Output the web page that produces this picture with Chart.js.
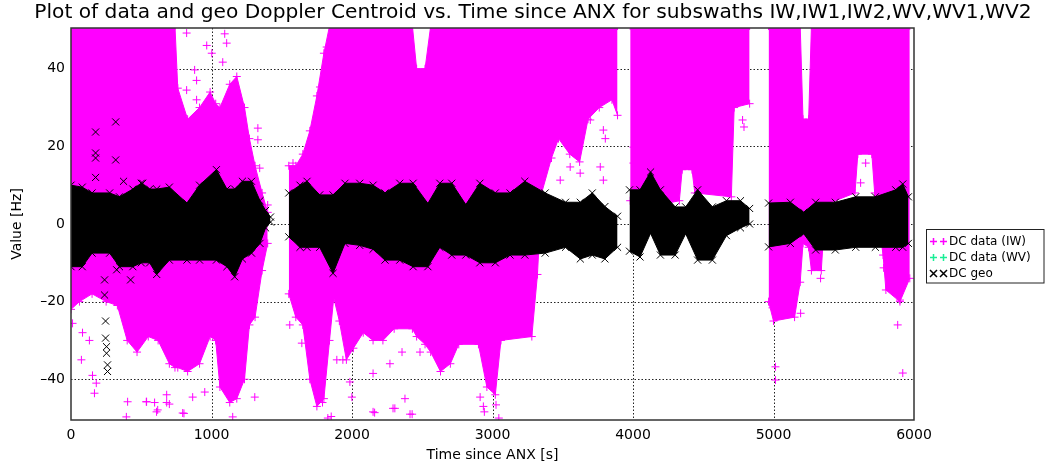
<!DOCTYPE html>
<html>
<head>
<meta charset="utf-8">
<title>Doppler Centroid vs. Time since ANX</title>
<script src="https://cdn.jsdelivr.net/npm/chart.js@4.4.1/dist/chart.umd.min.js"></script>
<style>
  html, body { margin: 0; padding: 0; background: #fff; }
  #plot { display: block; }
</style>
</head>
<body>
<canvas id="plot" width="1046" height="467"></canvas>
<script>
const titulo = 'Plot of data and geo Doppler Centroid vs. Time since ANX for subswaths IW,IW1,IW2,WV,WV1,WV2';

const xTicks = [0, 1000, 2000, 3000, 4000, 5000, 6000];
const yTicks = [-40, -20, 0, 20, 40];

// DC data (IW): upper / lower edge of the cloud, null = no data
const iwTime = [0, 60, 150, 250, 330, 400, 470, 550, 620, 700, 740, 760, 830, 915, 990, 1030, 1060, 1130, 1180, 1235, 1270, 1310, 1360, 1400, 1460,
  1550, 1600, 1650, 1700, 1750, 1800, 1840, 1870, 1910, 1960, 2010, 2080, 2150, 2220, 2300, 2430, 2460, 2520, 2560, 2630, 2700, 2760, 2900, 2960, 3020, 3060, 3280, 3320, 3350, 3420, 3470, 3550, 3620, 3680, 3760, 3850, 3890, 3930,
  3980, 4050, 4200, 4330, 4350, 4420, 4440, 4700, 4720, 4830, 4890,
  4965, 5000, 5150, 5190, 5210, 5250, 5270, 5340, 5370, 5580, 5600, 5700, 5720, 5780, 5800, 5900, 5970];
const iwHigh = [51, 51, 51, 51, 51, 51, 51, 51, 51, 51, 51, 35, 27, 30, 34, 31, 30, 36, 38, 30, 22, 15, 8, 3, null,
  15, 15, 18, 24, 33, 44, 51, 51, 51, 51, 51, 51, 51, 51, 51, 51, 40, 40, 51, 51, 51, 51, 51, 51, 51, 51, 51, 51, 51, 51, 51, 51, 51, 51, 51, 51, 51, null,
  51, 51, 51, 51, 51, 51, 51, 51, 51, 51, null,
  51, 51, 51, 51, 27, 27, 51, 51, 51, 51, 51, 51, 51, 51, 51, 51, 51];
const iwLow = [-22, -20, -18, -20, -21, -30, -33, -29, -30, -36, -37, -37, -38, -36, -29, -30, -42, -46, -45, -40, -26, -24, -12, -5, null,
  -18, -24, -26, -40, -47, -45, -30, -19, -25, -35, -32, -28, -30, -30, -27, -27, -29, -31, -33, -38, -36, -31, -31, -42, -44, -30, -29, -13, 8, 17, 22, 18, 16, 27, 30, 32, 28, null,
  6, 5, 5, 6, 14, 14, 8, 7, 30, 31, null,
  -20, -25, -24, -15, -5, -6, -12, -12, 5, 8, 18, 18, 8, -8, -17, -20, -14];

// DC data (IW): isolated points
const iwOutTime = [823, 966, 1002, 1080, 1094, 1108, 880, 894, 823, 894, 1330, 1330, 1343, 1400, 1772, 1820, 1820, 1580, 1630,
  3460, 3482, 3553, 3624, 3696, 3767, 3789, 3789, 3803, 4003, 4003, 4780, 4790, 4660, 4660, 5656, 5620, 5264,
  74, 153, 180, 131, 82, 11, 167, 403, 394, 538, 595, 609, 681, 681, 795, 866, 952, 1151, 1308, 1557, 1643, 1750, 1828,
  1892, 1935, 1999, 1985, 536, 617, 700, 804, 1790, 1852, 2161, 2305, 2428, 2942, 3025, 3045, 2150, 2292, 2377, 2413,
  2935, 2484, 2356, 2270, 2150, 2912, 5014, 5014, 5920, 5884, 5900, 5335, 5193, 4993, 5784];
const iwOutValue = [49.2, 46, 44, 41.7, 49, 46.6, 39.7, 37, 34.5, 32, 24.7, 21.7, 14.4, 4.9, 35.3, 32, 45.6, 15.7, 14.7,
  22.4, 11.3, 14.7, 13.1, 26.8, 14.7, 24.2, 11.3, 22, 19.8, 15.7, 26.8, 25, 19.8, 12.6, 15.7, 10.6, 6.2,
  -35, -39, -41, -30, -28, -25.6, -43.6, -45.8, -49.7, -45.8, -46, -48.4, -44, -46, -48.7, -44.6, -43.3, -49.7, -44.6, -26, -30.7, -33.3, -50,
  -35, -35, -44.6, -40.7, -45.8, -47.9, -46.4, -48.8, -46, -49.6, -48.6, -47.5, -49, -48.4, -46.6, -50, -48.4, -47.5, -45, -49,
  -47, -33, -33, -36, -38.5, -44.6, -36.8, -40.2, -38.4, -26, -19.6, -14, -23, -21.6, -11.3];

// DC data (WV): no samples in this pass
const wvTime = [];
const wvValue = [];

// DC geo: upper / lower edge of the band
const geoTime = [0, 80, 150, 275, 345, 440, 500, 560, 610, 700, 825, 915, 1035, 1110, 1165, 1220, 1285, 1345, 1385, 1420, 1480,
  1550, 1630, 1680, 1770, 1865, 1950, 2055, 2150, 2235, 2340, 2435, 2540, 2625, 2710, 2810, 2910, 3020, 3125, 3230, 3375, 3520, 3625, 3710, 3800, 3890, 3940,
  3975, 4050, 4125, 4195, 4300, 4375, 4460, 4565, 4665, 4765, 4830, 4900,
  4965, 5120, 5215, 5300, 5440, 5585, 5725, 5870, 5920, 5960];
const geoHigh = [10, 9.5, 8, 8, 7, 9, 10.5, 9, 9, 9.5, 5.4, 10, 14, 9, 9, 11, 11, 6, 3.5, 1.8, null,
  8, 10, 11, 7.5, 7.5, 10.5, 10.5, 10, 8, 10.5, 10.5, 5.3, 10.5, 10.5, 5, 10.5, 8, 8, 11, 8, 5.6, 5.6, 8, 4.5, 2, null,
  8.8, 8.8, 13.4, 8.8, 4.4, 4.4, 8.8, 4.4, 6, 6, 4, null,
  5.4, 5.6, 3, 5.6, 5.6, 7, 7, 8.8, 10.3, 7];
const geoLow = [-11, -11, -7.5, -7.5, -11, -11, -10, -10, -13, -9.3, -9.3, -9.3, -9.3, -11, -13.6, -9, -7.5, -5, -1, 0.5, null,
  -3.3, -6, -6, -6, -12.7, -5, -5.5, -6.5, -9.3, -9.3, -11, -11, -6, -8, -8, -10, -10, -8, -8, -7.5, -6, -9, -8, -9, -6, null,
  -7, -8.5, -2.4, -8, -8, -2.5, -9.3, -9.3, -3, -1, 0, null,
  -5.9, -5, -2.5, -6.7, -6.7, -6, -6, -6, -6, -5];

// DC geo: isolated points
const geoOutTime = [175, 318, 175, 175, 318, 175, 374, 510, 239, 239, 246, 246, 253, 253, 260, 260, 424, 325];
const geoOutValue = [23.7, 26.3, 18.3, 17, 16.5, 12, 11, 10.5, -14.4, -18.3, -25, -29.4, -31.6, -33.3, -36.3, -38, -14.4, -11.8];

const MAGENTA = '#ff00ff';
const GREEN = '#1aee96';
const BLACK = '#000000';

function puntos(xs, ys) {
  return xs.map((x, i) => ({ x: x, y: ys[i] }));
}

// legend symbols: '+' or 'x', 7 px across
function marca(ctx, style, cx, cy, color) {
  ctx.strokeStyle = color;
  ctx.lineWidth = 1.5;
  ctx.beginPath();
  if (style === 'cross') {
    ctx.moveTo(cx - 3.5, cy); ctx.lineTo(cx + 3.5, cy);
    ctx.moveTo(cx, cy - 3.5); ctx.lineTo(cx, cy + 3.5);
  } else {
    ctx.moveTo(cx - 3.5, cy - 3.5); ctx.lineTo(cx + 3.5, cy + 3.5);
    ctx.moveTo(cx - 3.5, cy + 3.5); ctx.lineTo(cx + 3.5, cy - 3.5);
  }
  ctx.stroke();
}

// gridlines under the data, frame / title / legend on top
const decoracion = {
  id: 'decoracion',
  beforeDatasetsDraw(chart) {
    const { ctx, chartArea: a, scales } = chart;
    ctx.save();
    ctx.strokeStyle = '#222';
    ctx.lineWidth = 1;
    ctx.setLineDash([1.5, 2]);
    ctx.beginPath();
    xTicks.forEach(v => {
      if (v <= scales.x.min || v >= scales.x.max) return;
      const px = Math.round(scales.x.getPixelForValue(v)) + 0.5;
      ctx.moveTo(px, a.top);
      ctx.lineTo(px, a.bottom);
    });
    yTicks.forEach(v => {
      const py = Math.round(scales.y.getPixelForValue(v)) + 0.5;
      ctx.moveTo(a.left, py);
      ctx.lineTo(a.right, py);
    });
    ctx.stroke();
    ctx.restore();
  },
  afterDraw(chart) {
    const { ctx, chartArea: a } = chart;
    ctx.save();
    // frame
    ctx.strokeStyle = '#333';
    ctx.lineWidth = 1.5;
    ctx.strokeRect(a.left, a.top, a.right - a.left, a.bottom - a.top);

    // title, stretched to the same width as the reference
    ctx.fillStyle = '#000';
    ctx.textBaseline = 'middle';
    ctx.textAlign = 'center';
    ctx.font = '16px "DejaVu Sans"';
    const w = ctx.measureText(titulo).width;
    const size = 16 * 998 / w;
    ctx.font = size.toFixed(2) + 'px "DejaVu Sans"';
    ctx.fillText(titulo, 533, 13);

    // legend box
    const bx = 926.5, by = 229.5, bw = 117.5, bh = 53.5;
    ctx.fillStyle = '#fff';
    ctx.fillRect(bx, by, bw, bh);
    ctx.strokeStyle = '#222';
    ctx.lineWidth = 1;
    ctx.strokeRect(bx, by, bw, bh);
    const items = [
      { text: 'DC data (IW)', color: MAGENTA, style: 'cross', y: 241.5 },
      { text: 'DC data (WV)', color: GREEN, style: 'cross', y: 257.5 },
      { text: 'DC geo', color: BLACK, style: 'crossRot', y: 273.5 }
    ];
    items.forEach(it => {
      marca(ctx, it.style, 933.5, it.y, it.color);
      marca(ctx, it.style, 943.5, it.y, it.color);
      ctx.fillStyle = '#000';
      ctx.textAlign = 'left';
      ctx.font = '12px "DejaVu Sans"';
      ctx.fillText(it.text, 949, it.y + 0.5);
    });
    ctx.restore();
  }
};

const comun = { showLine: true, spanGaps: false, clip: 0, borderWidth: 1, pointBorderWidth: 1 };

const chart = new Chart(document.getElementById('plot').getContext('2d'), {
  type: 'line',
  data: {
    datasets: [
      Object.assign({}, comun, {
        label: 'DC data (IW) low',
        data: puntos(iwTime, iwLow),
        borderColor: MAGENTA,
        backgroundColor: MAGENTA,
        pointStyle: 'cross', pointRadius: 4, pointBorderColor: MAGENTA,
        fill: false,
        order: 6
      }),
      Object.assign({}, comun, {
        label: 'DC data (IW)',
        data: puntos(iwTime, iwHigh),
        borderColor: MAGENTA,
        backgroundColor: MAGENTA,
        pointStyle: 'cross', pointRadius: 4, pointBorderColor: MAGENTA,
        fill: '-1',
        order: 5
      }),
      Object.assign({}, comun, {
        label: 'DC data (IW) points',
        data: puntos(iwOutTime, iwOutValue),
        showLine: false,
        borderColor: MAGENTA,
        pointStyle: 'cross', pointRadius: 4, pointBorderColor: MAGENTA,
        fill: false,
        order: 4
      }),
      Object.assign({}, comun, {
        label: 'DC data (WV)',
        data: puntos(wvTime, wvValue),
        showLine: false,
        borderColor: GREEN,
        pointStyle: 'cross', pointRadius: 4, pointBorderColor: GREEN,
        fill: false,
        order: 3
      }),
      Object.assign({}, comun, {
        label: 'DC geo low',
        data: puntos(geoTime, geoLow),
        borderColor: BLACK,
        backgroundColor: BLACK,
        pointStyle: 'crossRot', pointRadius: 5, pointBorderColor: BLACK,
        fill: false,
        order: 2
      }),
      Object.assign({}, comun, {
        label: 'DC geo',
        data: puntos(geoTime, geoHigh),
        borderColor: BLACK,
        backgroundColor: BLACK,
        pointStyle: 'crossRot', pointRadius: 5, pointBorderColor: BLACK,
        fill: '-1',
        order: 1
      }),
      Object.assign({}, comun, {
        label: 'DC geo points',
        data: puntos(geoOutTime, geoOutValue),
        showLine: false,
        borderColor: BLACK,
        pointStyle: 'crossRot', pointRadius: 5, pointBorderColor: BLACK,
        fill: false,
        order: 0
      })
    ]
  },
  options: {
    responsive: false,
    animation: false,
    devicePixelRatio: 1,
    layout: { padding: { top: 28, right: 132, left: 0, bottom: 0 } },
    plugins: {
      legend: { display: false },
      title: { display: false },
      tooltip: { enabled: false }
    },
    scales: {
      x: {
        type: 'linear',
        min: 0,
        max: 6000,
        afterBuildTicks: s => { s.ticks = xTicks.map(v => ({ value: v })); },
        afterFit: s => { s.height = 47; },
        grid: { display: false, drawTicks: false },
        border: { display: false },
        ticks: {
          padding: 7,
          color: '#000',
          maxRotation: 0,
          font: { family: 'DejaVu Sans', size: 14 },
          callback: v => String(v)
        },
        title: {
          display: true,
          text: 'Time since ANX [s]',
          color: '#000',
          font: { family: 'DejaVu Sans', size: 14 },
          padding: { top: 0, bottom: 3 }
        }
      },
      y: {
        type: 'linear',
        min: -50.5,
        max: 50.5,
        afterBuildTicks: s => { s.ticks = yTicks.map(v => ({ value: v })); },
        afterFit: s => { s.width = 71; },
        grid: { display: false, drawTicks: false },
        border: { display: false },
        ticks: {
          padding: 6,
          color: '#000',
          font: { family: 'DejaVu Sans', size: 14 },
          callback: v => String(v).replace('-', '\u2013')
        },
        title: {
          display: true,
          text: 'Value [Hz]',
          color: '#000',
          font: { family: 'DejaVu Sans', size: 14 },
          padding: { top: 9, bottom: 0 }
        }
      }
    }
  },
  plugins: [decoracion]
});
</script>
</body>
</html>
